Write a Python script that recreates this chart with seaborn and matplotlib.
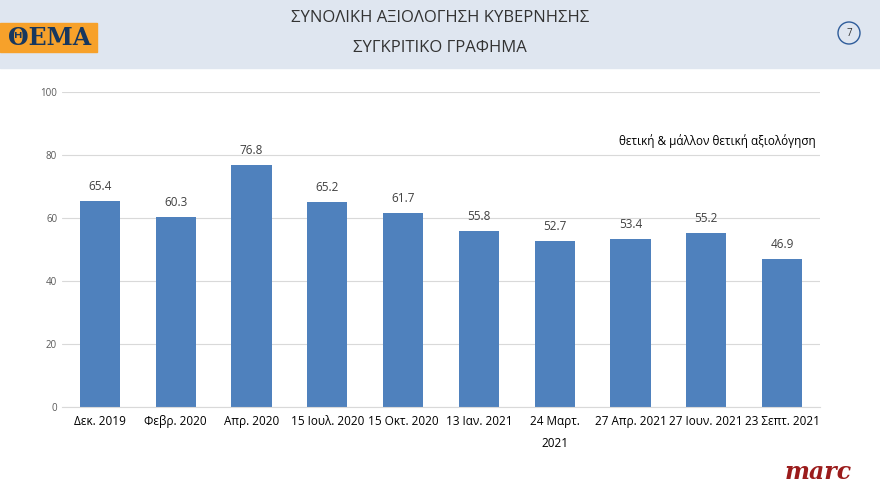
import matplotlib
matplotlib.use("Agg")
import matplotlib.pyplot as plt
import seaborn as sns
import pandas as pd
from matplotlib.patches import Rectangle, Circle

categories = ["Δεκ. 2019", "Φεβρ. 2020", "Απρ. 2020", "15 Ιουλ. 2020", "15 Οκτ. 2020",
              "13 Ιαν. 2021", "24 Μαρτ.\n2021", "27 Απρ. 2021", "27 Ιουν. 2021", "23 Σεπτ. 2021"]
values = [65.4, 60.3, 76.8, 65.2, 61.7, 55.8, 52.7, 53.4, 55.2, 46.9]

sns.set_style("white")
plt.rcParams['font.family'] = ['Open Sans', 'DejaVu Sans']

fig = plt.figure(figsize=(8.8, 4.95), dpi=100)
fig.patches.append(Rectangle((0, 495-68), 880, 68, transform=None, color="#dfe6f0", zorder=0))
fig.patches.append(Rectangle((0, 495-52), 97, 29, transform=None, color="#f7a12a", zorder=1))
fig.text(50/880, 1-38/495, "ΘΕΜΑ", ha="center", va="center", fontsize=17, fontweight="bold",
         color="#17375e", family="DejaVu Serif")
fig.patches.append(Circle((849, 495-33), 11, transform=None, facecolor="#dfe6f0",
                          edgecolor="#2e5c9a", lw=1, zorder=2))
fig.text(849/880, 1-33/495, "7", ha="center", va="center", fontsize=7, color="#333333")
fig.text(0.5, 1-18/495, "ΣΥΝΟΛΙΚΗ ΑΞΙΟΛΟΓΗΣΗ ΚΥΒΕΡΝΗΣΗΣ", ha="center", va="center", fontsize=12, color="#333333")
fig.text(0.5, 1-48/495, "ΣΥΓΚΡΙΤΙΚΟ ΓΡΑΦΗΜΑ", ha="center", va="center", fontsize=12, color="#333333")
fig.text(818/880, 1-472/495, "marc", ha="center", va="center", fontsize=17, fontweight="bold",
         style="italic", color="#9b1c1c", family="DejaVu Serif")

ax = fig.add_axes([62/880, 88/495, 758/880, 315/495])
df = pd.DataFrame({"cat": categories, "val": values})
sns.barplot(data=df, x="cat", y="val", color="#4f81bd", saturation=1, width=0.53,
            linewidth=0, ax=ax)
for i, v in enumerate(values):
    ax.text(i, v + 2.5, f"{v}", ha="center", va="bottom", fontsize=8.5, color="#404040")
ax.set_ylim(0, 100)
ax.set_yticks(range(0, 101, 20))
ax.yaxis.grid(True, color="#d9d9d9", lw=0.8)
ax.set_axisbelow(True)
for s in ["top", "right", "left"]:
    ax.spines[s].set_visible(False)
ax.spines["bottom"].set_color("#d9d9d9")
ax.tick_params(axis="y", labelsize=7, colors="#595959", length=0)
ax.tick_params(axis="x", labelsize=8.5, colors="#000000", length=0, pad=6)
for lab in ax.get_xticklabels():
    lab.set_linespacing(1.9)
ax.set_xlabel("")
ax.set_ylabel("")
ax.text(0.995, 0.845, "θετική & μάλλον θετική αξιολόγηση", transform=ax.transAxes,
        ha="right", va="center", fontsize=8.5, color="#000000")
fig.savefig("out.png", dpi=100)
